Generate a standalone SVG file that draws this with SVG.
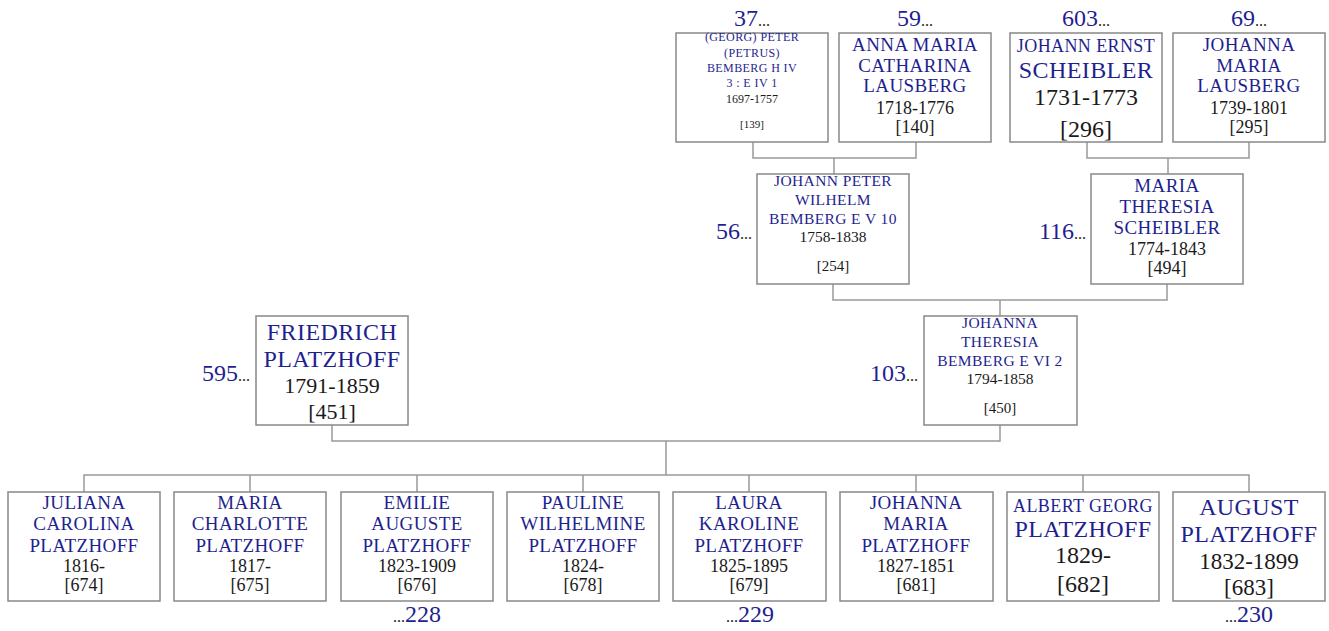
<svg xmlns="http://www.w3.org/2000/svg" width="1329" height="631" viewBox="0 0 1329 631">
<style>
.box{fill:#fff;stroke:#888;stroke-width:1.5}
.c{fill:none;stroke:#999;stroke-width:1.5}
text{font-family:"Liberation Serif","Times New Roman",serif;text-anchor:middle}
.n{fill:#1f1f8f;letter-spacing:0.4px}
.d{fill:#1a1a1a}
.k{fill:#1f1f8f;font-size:24px}
.e{fill:#1a1a1a;font-size:16px}
</style>
<rect width="1329" height="631" fill="#fff"/>
<g id="connectors">
<path class="c" d="M753 142V158H916V142M834 158V174"/>
<path class="c" d="M1087 142V158H1249V142M1168 158V174"/>
<path class="c" d="M833 284V300H1167V284M1000 300V316"/>
<path class="c" d="M332 425V441H1000V425M666 441V475"/>
<path class="c" d="M84 492V475H1249V492M250 475V492M417 475V492M583 475V492M749 475V492M916 475V492M1083 475V492"/>
</g>
<g id="n139">
<text x="752" y="26" class="k">37<tspan class="e">...</tspan></text>
<rect class="box" x="676" y="33" width="152" height="109"/>
<g class="n" font-size="12"><text x="752" y="41">(GEORG) PETER</text><text x="752" y="57">(PETRUS)</text><text x="752" y="72">BEMBERG H IV</text><text x="752" y="87">3 :   E IV 1</text></g>
<text x="752" y="103" class="d" font-size="12">1697-1757</text>
<text x="752" y="128" class="d" font-size="11">[139]</text>
</g>
<g id="n140">
<text x="915" y="26" class="k">59<tspan class="e">...</tspan></text>
<rect class="box" x="839" y="33" width="152" height="109"/>
<g class="n" font-size="19"><text x="915" y="51">ANNA MARIA</text><text x="915" y="72">CATHARINA</text><text x="915" y="92">LAUSBERG</text></g>
<text x="915" y="114" class="d" font-size="18">1718-1776</text>
<text x="915" y="133" class="d" font-size="18">[140]</text>
</g>
<g id="n296">
<text x="1086" y="26" class="k">603<tspan class="e">...</tspan></text>
<rect class="box" x="1010" y="33" width="152" height="109"/>
<text x="1086" y="52" class="n" font-size="18">JOHANN ERNST</text>
<text x="1086" y="78" class="n" font-size="24">SCHEIBLER</text>
<text x="1086" y="105" class="d" font-size="24">1731-1773</text>
<text x="1086" y="137" class="d" font-size="24">[296]</text>
</g>
<g id="n295">
<text x="1249" y="26" class="k">69<tspan class="e">...</tspan></text>
<rect class="box" x="1173" y="33" width="152" height="109"/>
<g class="n" font-size="19"><text x="1249" y="51">JOHANNA</text><text x="1249" y="72">MARIA</text><text x="1249" y="92">LAUSBERG</text></g>
<text x="1249" y="114" class="d" font-size="18">1739-1801</text>
<text x="1249" y="133" class="d" font-size="18">[295]</text>
</g>
<g id="n254">
<text x="752" y="239" class="k" style="text-anchor:end">56<tspan class="e">...</tspan></text>
<rect class="box" x="757" y="174" width="152" height="110"/>
<g class="n" font-size="15.5"><text x="833" y="186">JOHANN PETER</text><text x="833" y="205">WILHELM</text><text x="833" y="224">BEMBERG E V 10</text></g>
<text x="833" y="242" class="d" font-size="15.5">1758-1838</text>
<text x="833" y="271" class="d" font-size="15">[254]</text>
</g>
<g id="n494">
<text x="1086" y="239" class="k" style="text-anchor:end">116<tspan class="e">...</tspan></text>
<rect class="box" x="1091" y="174" width="152" height="110"/>
<g class="n" font-size="19"><text x="1167" y="192">MARIA</text><text x="1167" y="213">THERESIA</text><text x="1167" y="234">SCHEIBLER</text></g>
<text x="1167" y="255" class="d" font-size="18">1774-1843</text>
<text x="1167" y="274" class="d" font-size="18">[494]</text>
</g>
<g id="n451">
<text x="250" y="381" class="k" style="text-anchor:end">595<tspan class="e">...</tspan></text>
<rect class="box" x="256" y="316" width="152" height="109"/>
<g class="n" font-size="24"><text x="332" y="340">FRIEDRICH</text><text x="332" y="367">PLATZHOFF</text></g>
<text x="332" y="393" class="d" font-size="22">1791-1859</text>
<text x="332" y="419" class="d" font-size="22">[451]</text>
</g>
<g id="n450">
<text x="918" y="381" class="k" style="text-anchor:end">103<tspan class="e">...</tspan></text>
<rect class="box" x="924" y="316" width="153" height="109"/>
<g class="n" font-size="15.5"><text x="1000" y="328">JOHANNA</text><text x="1000" y="347">THERESIA</text><text x="1000" y="366">BEMBERG E VI 2</text></g>
<text x="1000" y="384" class="d" font-size="15.5">1794-1858</text>
<text x="1000" y="413" class="d" font-size="15">[450]</text>
</g>
<g id="n674">
<rect class="box" x="8" y="492" width="152" height="109"/>
<g class="n" font-size="19"><text x="84" y="509">JULIANA</text><text x="84" y="530">CAROLINA</text><text x="84" y="552">PLATZHOFF</text></g>
<text x="84" y="572" class="d" font-size="18">1816-</text>
<text x="84" y="591" class="d" font-size="18">[674]</text>
</g>
<g id="n675">
<rect class="box" x="174" y="492" width="152" height="109"/>
<g class="n" font-size="19"><text x="250" y="509">MARIA</text><text x="250" y="530">CHARLOTTE</text><text x="250" y="552">PLATZHOFF</text></g>
<text x="250" y="572" class="d" font-size="18">1817-</text>
<text x="250" y="591" class="d" font-size="18">[675]</text>
</g>
<g id="n676">
<rect class="box" x="341" y="492" width="152" height="109"/>
<g class="n" font-size="19"><text x="417" y="509">EMILIE</text><text x="417" y="530">AUGUSTE</text><text x="417" y="552">PLATZHOFF</text></g>
<text x="417" y="572" class="d" font-size="18">1823-1909</text>
<text x="417" y="591" class="d" font-size="18">[676]</text>
<text x="417" y="622" class="k"><tspan class="e">...</tspan>228</text>
</g>
<g id="n678">
<rect class="box" x="507" y="492" width="152" height="109"/>
<g class="n" font-size="19"><text x="583" y="509">PAULINE</text><text x="583" y="530">WILHELMINE</text><text x="583" y="552">PLATZHOFF</text></g>
<text x="583" y="572" class="d" font-size="18">1824-</text>
<text x="583" y="591" class="d" font-size="18">[678]</text>
</g>
<g id="n679">
<rect class="box" x="673" y="492" width="153" height="109"/>
<g class="n" font-size="19"><text x="749" y="509">LAURA</text><text x="749" y="530">KAROLINE</text><text x="749" y="552">PLATZHOFF</text></g>
<text x="749" y="572" class="d" font-size="18">1825-1895</text>
<text x="749" y="591" class="d" font-size="18">[679]</text>
<text x="750" y="622" class="k"><tspan class="e">...</tspan>229</text>
</g>
<g id="n681">
<rect class="box" x="840" y="492" width="153" height="109"/>
<g class="n" font-size="19"><text x="916" y="509">JOHANNA</text><text x="916" y="530">MARIA</text><text x="916" y="552">PLATZHOFF</text></g>
<text x="916" y="572" class="d" font-size="18">1827-1851</text>
<text x="916" y="591" class="d" font-size="18">[681]</text>
</g>
<g id="n682">
<rect class="box" x="1007" y="492" width="152" height="109"/>
<text x="1083" y="512" class="n" font-size="18">ALBERT GEORG</text>
<text x="1083" y="537" class="n" font-size="24">PLATZHOFF</text>
<text x="1083" y="563" class="d" font-size="24">1829-</text>
<text x="1083" y="592" class="d" font-size="24">[682]</text>
</g>
<g id="n683">
<rect class="box" x="1173" y="492" width="152" height="109"/>
<g class="n" font-size="24"><text x="1249" y="515">AUGUST</text><text x="1249" y="542">PLATZHOFF</text></g>
<text x="1249" y="569" class="d" font-size="23">1832-1899</text>
<text x="1249" y="595" class="d" font-size="23">[683]</text>
<text x="1249" y="622" class="k"><tspan class="e">...</tspan>230</text>
</g>
</svg>
